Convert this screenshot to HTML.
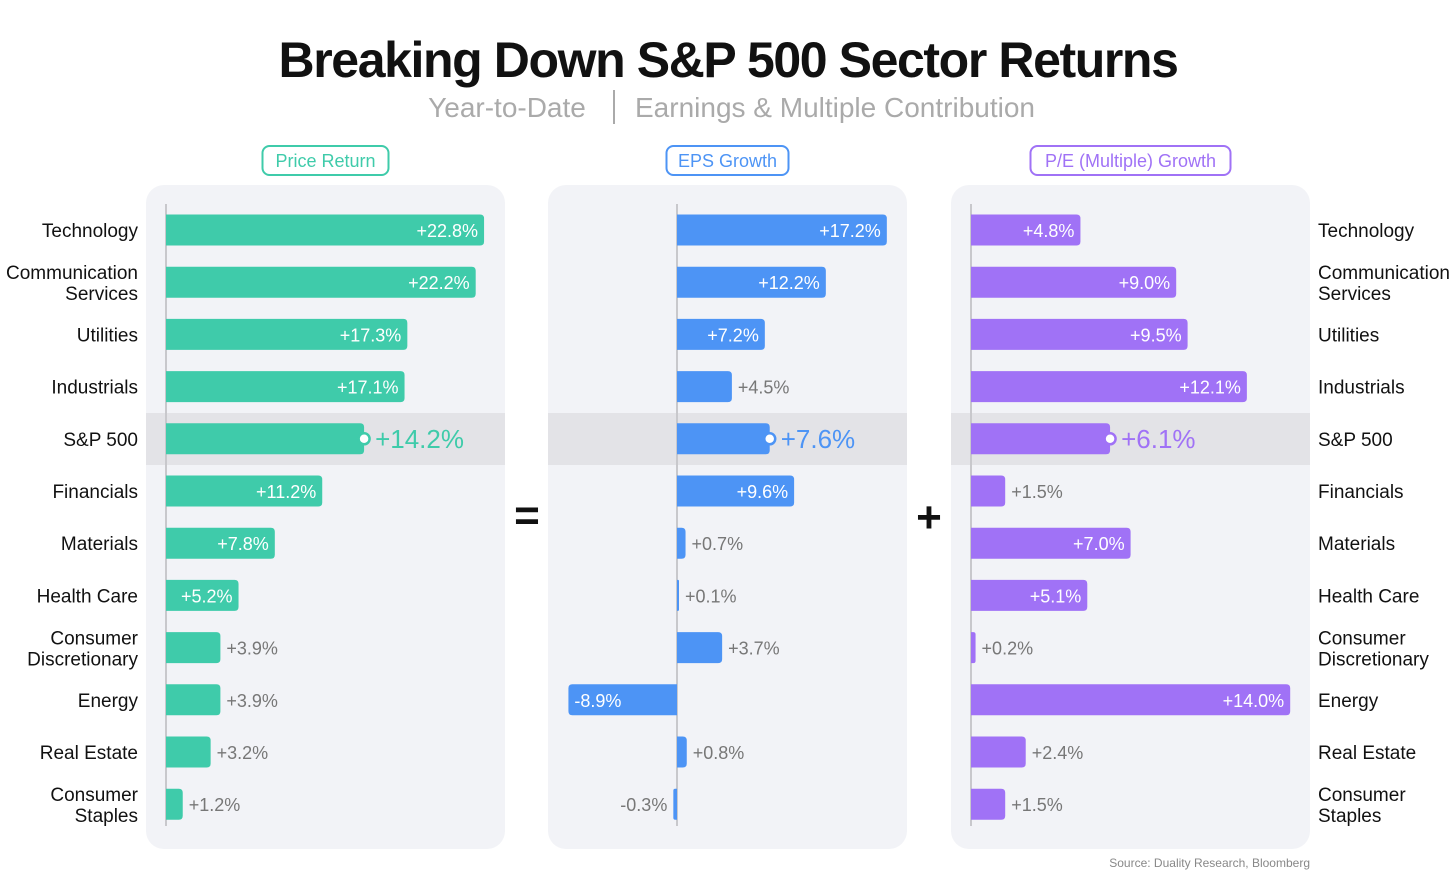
<!DOCTYPE html>
<html><head><meta charset="utf-8"><style>
body{margin:0;background:#fff;font-family:"Liberation Sans",sans-serif}
svg{display:block}
</style></head><body>
<svg id="c" width="1456" height="874">
<text x="728" y="77" text-anchor="middle" font-size="50" font-weight="bold" letter-spacing="-1.4" fill="#111">Breaking Down S&amp;P 500 Sector Returns</text>
<text x="507" y="117" text-anchor="middle" font-size="28" fill="#aaa">Year-to-Date</text>
<line x1="614" y1="90" x2="614" y2="124" stroke="#aaa" stroke-width="2"/>
<text x="835" y="117" text-anchor="middle" font-size="28" fill="#aaa">Earnings &amp; Multiple Contribution</text>
<text x="527" y="530" text-anchor="middle" font-size="44" font-weight="bold" fill="#111">=</text>
<text x="929" y="532" text-anchor="middle" font-size="44" font-weight="bold" fill="#111">+</text>
<text x="1310" y="867" text-anchor="end" font-size="12" fill="#888">Source: Duality Research, Bloomberg</text>
</svg>
<script>
const categories=[["Technology"],["Communication","Services"],["Utilities"],["Industrials"],["S&P 500"],["Financials"],["Materials"],["Health Care"],["Consumer","Discretionary"],["Energy"],["Real Estate"],["Consumer","Staples"]];
const priceReturn=[22.8,22.2,17.3,17.1,14.2,11.2,7.8,5.2,3.9,3.9,3.2,1.2];
const epsGrowth=[17.2,12.2,7.2,4.5,7.6,9.6,0.7,0.1,3.7,-8.9,0.8,-0.3];
const peGrowth=[4.8,9.0,9.5,12.1,6.1,1.5,7.0,5.1,0.2,14.0,2.4,1.5];
const highlightIndex=4;
const svg=document.getElementById('c');
const NS='http://www.w3.org/2000/svg';
function mk(t,a,p){const e=document.createElementNS(NS,t);for(const k in a)e.setAttribute(k,a[k]);(p||svg).appendChild(e);return e;}
const rowY=i=>230+i*52.2;
const panels=[
 {name:'price-return',title:'Price Return',x:146,zero:166,scale:13.95,color:'#3fcbaa',data:priceReturn,lw:126},
 {name:'eps-growth',title:'EPS Growth',x:548,zero:677,scale:12.2,color:'#4d94f5',data:epsGrowth,lw:122},
 {name:'pe-growth',title:'P/E (Multiple) Growth',x:951,zero:971,scale:22.8,color:'#a072f6',data:peGrowth,lw:200}
];
const fmt=v=>(v<0?'-':'+')+Math.abs(v).toFixed(1)+'%';
panels.forEach(p=>{
 const g=mk('g',{});
 
 
 mk('rect',{x:p.x,y:185,width:359,height:664,rx:18,fill:'#f2f3f7'},g);
 mk('rect',{x:p.x,y:413,width:359,height:52,fill:'#e3e3e7'},g);
 const cx=p.x+179.5;
 const lb=mk('rect',{x:cx-p.lw/2,y:146,width:p.lw,height:29,rx:7,fill:'#fff',stroke:p.color,'stroke-width':2},g);
 
 
 const lt=mk('text',{x:cx,y:167,'text-anchor':'middle','font-size':18,fill:p.color},g);lt.textContent=p.title;
 mk('line',{x1:p.zero,y1:204,x2:p.zero,y2:826,stroke:'#c8c8cc','stroke-width':2},g);
 p.data.forEach((v,i)=>{
  const y=rowY(i),h=31,w=Math.max(Math.abs(v)*p.scale,2);
  const x0=v>=0?p.zero:p.zero-w;
  const r=Math.min(4,w/2);
  let d;
  if(v>=0)d=`M${x0},${y-h/2}H${x0+w-r}Q${x0+w},${y-h/2} ${x0+w},${y-h/2+r}V${y+h/2-r}Q${x0+w},${y+h/2} ${x0+w-r},${y+h/2}H${x0}Z`;
  else d=`M${x0+w},${y-h/2}H${x0+r}Q${x0},${y-h/2} ${x0},${y-h/2+r}V${y+h/2-r}Q${x0},${y+h/2} ${x0+r},${y+h/2}H${x0+w}Z`;
  const b=mk('path',{d,fill:p.color},g);
  
  
  const t=mk('text',{y:y+7,'font-size':18},g);
  
  
  t.textContent=fmt(v);
  if(i===highlightIndex){
   mk('circle',{cx:x0+w,cy:y,r:5.5,fill:'#fff',stroke:p.color,'stroke-width':2.5},g);
   t.setAttribute('x',x0+w+11);t.setAttribute('font-size',26);t.setAttribute('y',y+9);t.setAttribute('fill',p.color);
  } else if(w>68){
   if(v>=0){t.setAttribute('x',x0+w-6);t.setAttribute('text-anchor','end');}
   else{t.setAttribute('x',x0+6);}
   t.setAttribute('fill','#fff');
  } else {
   if(v>=0){t.setAttribute('x',x0+w+6);}
   else{t.setAttribute('x',x0-6);t.setAttribute('text-anchor','end');}
   t.setAttribute('fill','#777');
  }
 });
});
categories.forEach((c,i)=>{
 const y=rowY(i);
 [[138,'end','category-label-left'],[1318,'start','category-label-right']].forEach(([x,a,n])=>{
  const t=mk('text',{x,'text-anchor':a,'font-size':19,fill:'#111'});
  
  
  c.forEach((line,k)=>{
   const ts=mk('tspan',{x,y:y+7+(c.length===2?(k===0?-10:11):0)},t);ts.textContent=line;
  });
 });
});
</script>
</body></html>
